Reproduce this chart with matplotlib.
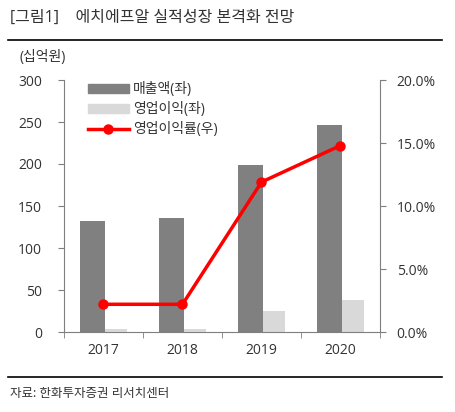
import numpy as np
import matplotlib.pyplot as plt
from matplotlib.lines import Line2D
from matplotlib.patches import Patch

plt.rcParams['font.family'] = ['Open Sans', 'Noto Sans CJK KR', 'DejaVu Sans']

years = ['2017', '2018', '2019', '2020']
sales = [132, 136, 199, 247]
op_profit = [4, 4, 25, 38]
op_margin = [2.2, 2.2, 11.9, 14.8]

dark = '#808080'
light = '#d9d9d9'
red = '#ff0000'
axis_col = '#7f7f7f'
text_col = '#333333'

fig = plt.figure(figsize=(4.56, 4.12), dpi=100)
ax = fig.add_axes([64/456, 80/412, 316/456, 252/412])

x = np.arange(len(years))
w = 0.31
ax.bar(x - 0.14, sales, width=w, color=dark, zorder=2)
ax.bar(x + 0.14, op_profit, width=w, color=light, zorder=1)

ax.set_xlim(-0.5, 3.5)
ax.set_ylim(0, 300)
ax.set_yticks(range(0, 301, 50))
ax.set_xticks(x)
ax.set_xticklabels(years)
ax.set_xticks(np.arange(-0.5, 4.0, 1.0), minor=True)
ax.tick_params(axis='x', which='major', length=0, pad=8, labelsize=10, labelcolor=text_col)
ax.tick_params(axis='x', which='minor', length=4, color=axis_col, direction='out')
ax.tick_params(axis='y', length=4, color=axis_col, labelsize=10, labelcolor=text_col, pad=12)
for s in ['top', 'right']:
    ax.spines[s].set_visible(False)
for s in ['left', 'bottom']:
    ax.spines[s].set_color(axis_col)

ax2 = ax.twinx()
ax2.plot(x, op_margin, color=red, lw=2.5, marker='o', ms=6.5, zorder=5)
ax2.set_ylim(0, 20)
ax2.set_yticks(np.arange(0, 20.1, 5))
ax2.set_yticklabels([f'{v:.1f}%' for v in np.arange(0, 20.1, 5)])
ax2.tick_params(axis='y', length=4, color=axis_col, labelsize=10, labelcolor=text_col, pad=8)
for s in ['top', 'left', 'bottom']:
    ax2.spines[s].set_visible(False)
ax2.spines['right'].set_color(axis_col)

handles = [Patch(color=dark), Patch(color=light),
           Line2D([0], [0], color=red, lw=2.5, marker='o', ms=6.5)]
labels = ['매출액(좌)', '영업이익(좌)', '영업이익률(우)']
fig.legend(handles, labels, loc='upper left', bbox_to_anchor=(75/456, 1 - 70/412),
           frameon=False, fontsize=10, handlelength=3.0, handleheight=0.6,
           labelspacing=0.35, handletextpad=0.3, labelcolor=text_col)

fig.text(10/456, 1 - 18/412, '[그림1]    에치에프알 실적성장 본격화 전망',
         fontsize=11.5, va='center', ha='left', color=text_col)
fig.add_artist(Line2D([8/456, 442/456], [1 - 40/412, 1 - 40/412], color='black', lw=1.2))
fig.text(20/456, 1 - 58/412, '(십억원)', fontsize=10, va='center', ha='left', color=text_col)
fig.add_artist(Line2D([8/456, 442/456], [1 - 377/412, 1 - 377/412], color='black', lw=1.2))
fig.text(10/456, 1 - 393/412, '자료: 한화투자증권 리서치센터', fontsize=9, va='center',
         ha='left', color=text_col)

fig.savefig('out.png', dpi=100)
